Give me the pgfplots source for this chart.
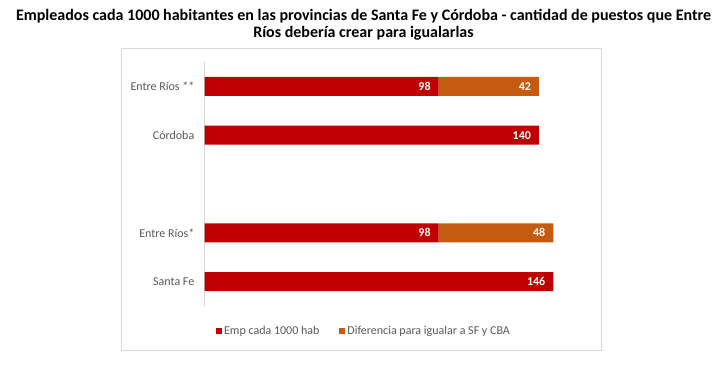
\documentclass[border=0pt]{standalone}
\usepackage{pgfplots}
\pgfplotsset{compat=1.18}
\usepackage{fontspec}
\setmainfont{Carlito}
\definecolor{empred}{HTML}{C00000}
\definecolor{difor}{HTML}{C55A11}
\definecolor{lbl}{HTML}{595959}
\definecolor{gridc}{HTML}{D9D9D9}
\pgfplotsset{sqlegend/.style={legend image code/.code={\fill[##1] (0bp,-3bp) rectangle (6bp,3bp);}}}
\begin{document}
\begin{tikzpicture}[x=1bp,y=1bp]
\path[use as bounding box, fill=white] (0,0) rectangle (727,368);
\draw[gridc, line width=0.75bp] (121,18) rectangle (601,320);
\node[align=center, font=\fontsize{16bp}{17bp}\selectfont\bfseries] at (363.5,343)
 {Empleados cada 1000 habitantes en las provincias de Santa Fe y Córdoba - cantidad de puestos que Entre\\Ríos debería crear para igualarlas};
\begin{axis}[
  at={(204.5bp,62bp)}, anchor=south west, scale only axis,
  width=382.2bp, height=244bp,
  xmin=0, xmax=160, ymin=-0.5, ymax=4.5,
  xbar stacked, bar width=19bp,
  axis x line=none, axis y line*=left,
  y axis line style={draw=gridc, line width=0.75bp},
  ytick={0,1,3,4},
  yticklabels={Santa Fe,Entre Ríos*,Córdoba,Entre Ríos **},
  major tick length=0pt,
  yticklabel style={font=\fontsize{12bp}{14bp}\selectfont, text=lbl, inner sep=0pt, xshift=-10bp},
  point meta=explicit symbolic,
  visualization depends on={rawx \as \rawxv},
  nodes near coords,
  every node near coord/.append style={font=\fontsize{12bp}{14bp}\selectfont\bfseries, text=white, anchor=east, xshift={(1.194375*\rawxv-4.5)*1bp}},
  legend columns=2,
  legend style={at={(0.4173,-0.1025)}, anchor=center, draw=none, fill=none,
    font=\fontsize{12bp}{14bp}\selectfont, text=lbl,
    nodes={inner sep=2bp},
    /tikz/every even column/.append style={column sep=18bp}},
]
\addplot[fill=empred, draw=none, sqlegend] coordinates {(146,0) [146] (98,1) [98] (140,3) [140] (98,4) [98]};
\addplot[fill=difor, draw=none, sqlegend] coordinates {(0,0) [] (48,1) [48] (0,3) [] (42,4) [42]};
\legend{Emp cada 1000 hab, Diferencia para igualar a SF y CBA}
\end{axis}
\end{tikzpicture}
\end{document}
